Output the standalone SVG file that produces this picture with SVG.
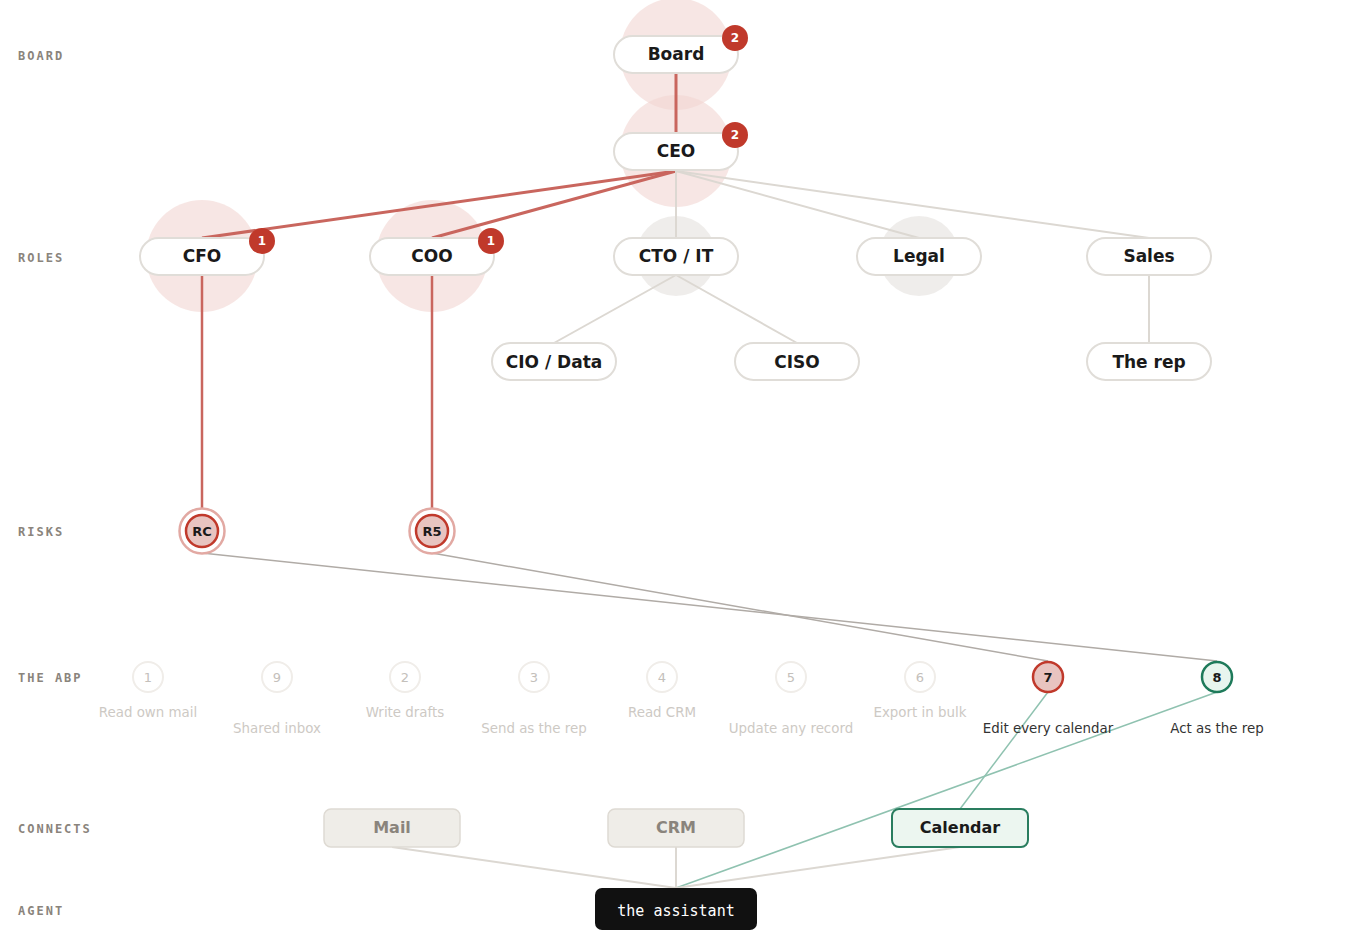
<svg xmlns="http://www.w3.org/2000/svg" width="1353" height="948" viewBox="0 0 1353 948">
<style>
.lane{font-family:"DejaVu Sans Mono",monospace;font-weight:bold;font-size:12px;letter-spacing:2px;fill:#8a847c;dominant-baseline:middle}
.pill{fill:#fff;stroke:#e0ddd8;stroke-width:2}
.pt{font-family:"DejaVu Sans",sans-serif;font-weight:bold;font-size:17px;fill:#1a1a1a;text-anchor:middle;dominant-baseline:central}
.badge{fill:#c0392b}
.bt{font-family:"DejaVu Sans",sans-serif;font-weight:bold;font-size:12px;fill:#fff;text-anchor:middle;dominant-baseline:central}
.haloR{fill:#f2d5d2;opacity:0.6}
.haloG{fill:#e8e6e3;opacity:0.7}
.red{stroke:#c9665e;stroke-width:3;fill:none}
.red2{stroke:#c9665e;stroke-width:2.5;fill:none}
.gray{stroke:#dcd8d2;stroke-width:2;fill:none}
.risk{stroke:#b0aba6;stroke-width:1.5;fill:none}
.teal{stroke:#8fc2b0;stroke-width:1.5;fill:none}
.abpf{fill:#fff;stroke:#f0ede9;stroke-width:2}
.abpt{font-family:"DejaVu Sans",sans-serif;font-size:13px;fill:#c4c0bb;text-anchor:middle;dominant-baseline:central}
.abpl{font-family:"DejaVu Sans",sans-serif;font-size:13.4px;fill:#cdc9c4;text-anchor:middle;dominant-baseline:central}
.abplA{font-family:"DejaVu Sans",sans-serif;font-size:13.4px;fill:#333;text-anchor:middle;dominant-baseline:central}
.con{fill:#efede8;stroke:#dedad3;stroke-width:1.5}
.ct{font-family:"DejaVu Sans",sans-serif;font-weight:bold;font-size:16px;fill:#8a847c;text-anchor:middle;dominant-baseline:central}
</style>
<rect width="1353" height="948" fill="#fff"/>
<g id="lanes">
<text class="lane" x="18" y="56">BOARD</text>
<text class="lane" x="18" y="258">ROLES</text>
<text class="lane" x="18" y="532">RISKS</text>
<text class="lane" x="18" y="678">THE ABP</text>
<text class="lane" x="18" y="829">CONNECTS</text>
<text class="lane" x="18" y="911">AGENT</text>
</g>
<g id="halos">
<circle class="haloR" cx="676" cy="54" r="56"/>
<circle class="haloR" cx="676" cy="151" r="56"/>
<circle class="haloR" cx="202" cy="256" r="56"/>
<circle class="haloR" cx="432" cy="256" r="56"/>
<circle class="haloG" cx="676" cy="256" r="40"/>
<circle class="haloG" cx="919" cy="256" r="40"/>
</g>
<g id="connectors">
<line class="red" x1="676" y1="73" x2="676" y2="133"/>
<line class="red" x1="676" y1="171" x2="202" y2="238"/>
<line class="red" x1="676" y1="171" x2="432" y2="238"/>
<line class="gray" x1="676" y1="171" x2="676" y2="238"/>
<line class="gray" x1="676" y1="171" x2="919" y2="238"/>
<line class="gray" x1="676" y1="171" x2="1149" y2="238"/>
<line class="gray" x1="676" y1="275" x2="554" y2="343"/>
<line class="gray" x1="676" y1="275" x2="797" y2="343"/>
<line class="gray" x1="1149" y1="275" x2="1149" y2="343"/>
<line class="red2" x1="202" y1="275" x2="202" y2="508"/>
<line class="red2" x1="432" y1="275" x2="432" y2="508"/>
<line class="risk" x1="202" y1="553" x2="1217" y2="661"/>
<line class="risk" x1="432" y1="553" x2="1048" y2="661"/>
<line class="teal" x1="1048" y1="692" x2="960" y2="809"/>
<line class="teal" x1="1217" y1="692" x2="676" y2="888"/>
<line class="gray" x1="392" y1="847" x2="676" y2="888"/>
<line class="gray" x1="676" y1="847" x2="676" y2="888"/>
<line class="gray" x1="960" y1="847" x2="676" y2="888"/>
</g>
<g id="board"><rect class="pill" x="614" y="36" width="124" height="37" rx="18.5"/><text class="pt" x="676" y="54">Board</text><circle class="badge" cx="735" cy="38" r="13"/><text class="bt" x="735" y="38">2</text></g>
<g id="ceo"><rect class="pill" x="614" y="133" width="124" height="37" rx="18.5"/><text class="pt" x="676" y="151">CEO</text><circle class="badge" cx="735" cy="135" r="13"/><text class="bt" x="735" y="135">2</text></g>
<g id="cfo"><rect class="pill" x="140" y="238" width="124" height="37" rx="18.5"/><text class="pt" x="202" y="256">CFO</text><circle class="badge" cx="262" cy="241" r="13"/><text class="bt" x="262" y="241">1</text></g>
<g id="coo"><rect class="pill" x="370" y="238" width="124" height="37" rx="18.5"/><text class="pt" x="432" y="256">COO</text><circle class="badge" cx="491" cy="241" r="13"/><text class="bt" x="491" y="241">1</text></g>
<g id="cto"><rect class="pill" x="614" y="238" width="124" height="37" rx="18.5"/><text class="pt" x="676" y="256">CTO / IT</text></g>
<g id="legal"><rect class="pill" x="857" y="238" width="124" height="37" rx="18.5"/><text class="pt" x="919" y="256">Legal</text></g>
<g id="sales"><rect class="pill" x="1087" y="238" width="124" height="37" rx="18.5"/><text class="pt" x="1149" y="256">Sales</text></g>
<g id="cio"><rect class="pill" x="492" y="343" width="124" height="37" rx="18.5"/><text class="pt" x="554" y="361.5">CIO / Data</text></g>
<g id="ciso"><rect class="pill" x="735" y="343" width="124" height="37" rx="18.5"/><text class="pt" x="797" y="361.5">CISO</text></g>
<g id="rep"><rect class="pill" x="1087" y="343" width="124" height="37" rx="18.5"/><text class="pt" x="1149" y="361.5">The rep</text></g>
<g id="riskRC"><circle cx="202" cy="531" r="22.5" fill="#fff" stroke="#e2a9a3" stroke-width="2.5"/><circle cx="202" cy="531" r="16" fill="#e8c4c0" stroke="#c0392b" stroke-width="2.5"/><text class="pt" style="font-size:13px" x="202" y="531">RC</text></g>
<g id="riskR5"><circle cx="432" cy="531" r="22.5" fill="#fff" stroke="#e2a9a3" stroke-width="2.5"/><circle cx="432" cy="531" r="16" fill="#e8c4c0" stroke="#c0392b" stroke-width="2.5"/><text class="pt" style="font-size:13px" x="432" y="531">R5</text></g>
<g id="abp1"><circle class="abpf" cx="148" cy="677" r="15"/><text class="abpt" x="148" y="677">1</text><text class="abpl" x="148" y="712">Read own mail</text></g>
<g id="abp9"><circle class="abpf" cx="277" cy="677" r="15"/><text class="abpt" x="277" y="677">9</text><text class="abpl" x="277" y="728">Shared inbox</text></g>
<g id="abp2"><circle class="abpf" cx="405" cy="677" r="15"/><text class="abpt" x="405" y="677">2</text><text class="abpl" x="405" y="712">Write drafts</text></g>
<g id="abp3"><circle class="abpf" cx="534" cy="677" r="15"/><text class="abpt" x="534" y="677">3</text><text class="abpl" x="534" y="728">Send as the rep</text></g>
<g id="abp4"><circle class="abpf" cx="662" cy="677" r="15"/><text class="abpt" x="662" y="677">4</text><text class="abpl" x="662" y="712">Read CRM</text></g>
<g id="abp5"><circle class="abpf" cx="791" cy="677" r="15"/><text class="abpt" x="791" y="677">5</text><text class="abpl" x="791" y="728">Update any record</text></g>
<g id="abp6"><circle class="abpf" cx="920" cy="677" r="15"/><text class="abpt" x="920" y="677">6</text><text class="abpl" x="920" y="712">Export in bulk</text></g>
<g id="abp7"><circle cx="1048" cy="677" r="15" fill="#e8c4c0" stroke="#c0392b" stroke-width="2.5"/><text class="abpt" style="fill:#1a1a1a;font-weight:bold" x="1048" y="677">7</text><text class="abplA" x="1048" y="728">Edit every calendar</text></g>
<g id="abp8"><circle cx="1217" cy="677" r="15" fill="#e8f5ee" stroke="#1e7a5a" stroke-width="2.5"/><text class="abpt" style="fill:#1a1a1a;font-weight:bold" x="1217" y="677">8</text><text class="abplA" x="1217" y="728">Act as the rep</text></g>
<g id="mail"><rect class="con" x="324" y="809" width="136" height="38" rx="7"/><text class="ct" x="392" y="827.5">Mail</text></g>
<g id="crm"><rect class="con" x="608" y="809" width="136" height="38" rx="7"/><text class="ct" x="676" y="827.5">CRM</text></g>
<g id="calendar"><rect x="892" y="809" width="136" height="38" rx="7" fill="#ecf6f0" stroke="#2a7d5f" stroke-width="2"/><text class="ct" style="fill:#1a1a1a" x="960" y="827.5">Calendar</text></g>
<g id="assistant"><rect x="595" y="888" width="162" height="42" rx="7" fill="#111"/><text x="676" y="910.5" fill="#fff" font-family="DejaVu Sans Mono, monospace" font-size="15" text-anchor="middle" dominant-baseline="central">the assistant</text></g>
</svg>
